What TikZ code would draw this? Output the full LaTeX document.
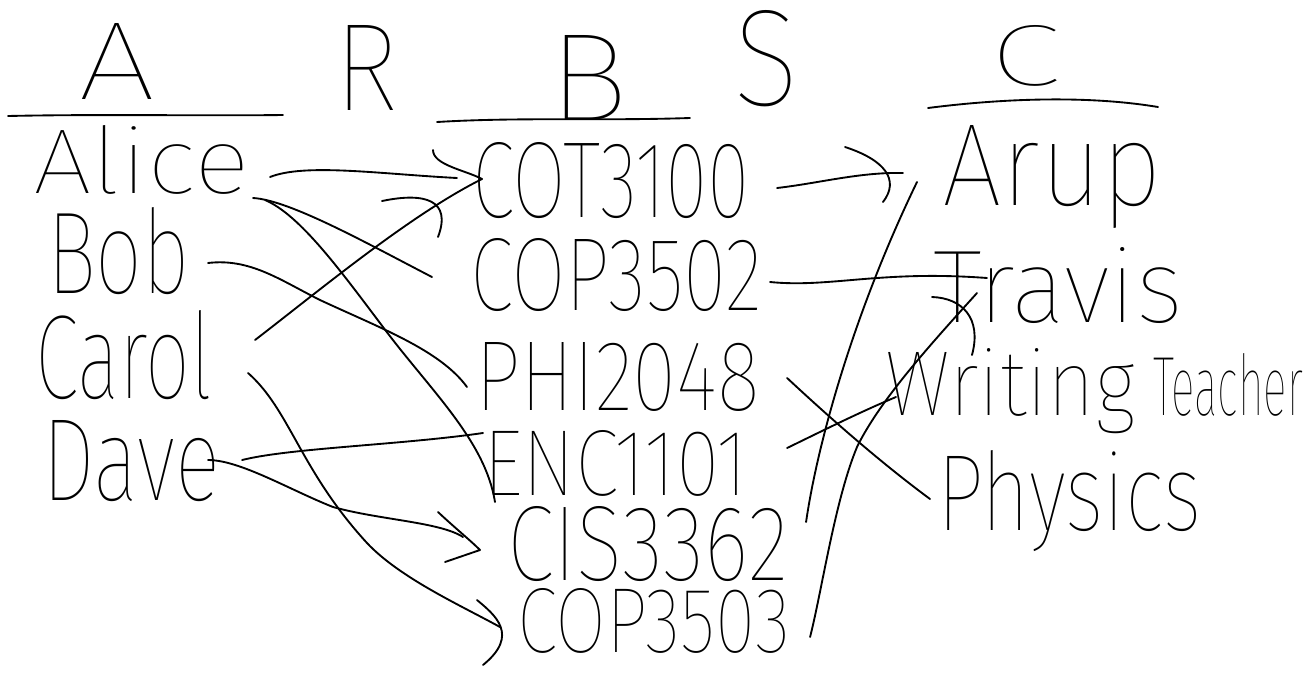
\documentclass[tikz,border=0pt]{standalone}
\usepackage{fontspec}
\usepackage{graphicx}
\newfontfamily\hand{Fira Sans Thin}
\newlength\pxu \setlength\pxu{0.75pt}
\newcommand\hw[3]{\resizebox{#1\pxu}{#2\pxu}{\hand #3}}
\tikzset{
  lbl/.style={inner sep=0pt, outer sep=0pt, anchor=base west},
  ink/.style={line width=1.4pt, line cap=round, line join=round, black}
}
\begin{document}
\begin{tikzpicture}[x=0.75pt,y=-0.75pt]
\fill[white] (0,0) rectangle (1313,672);
\useasboundingbox (0,0) rectangle (1313,672);

% headers
\node[lbl] (hA) at (78,99)   {\hw{77}{76}{A}};
\node[lbl] (hR) at (334,110) {\hw{64}{85}{R}};
\node[lbl] (hB) at (548,120) {\hw{80}{85}{B}};
\node[lbl] (hS) at (733,105) {\hw{66}{95}{S}};
\node[lbl] (hC) at (990,85)  {\hw{70}{60}{C}};
\draw[ink] (8,116) .. controls (100,114) and (200,116) .. (283,115);
\draw[ink] (437,122) .. controls (520,117) and (600,121) .. (690,118);
\draw[ink] (928,108) .. controls (990,100) and (1080,94) .. (1158,107);

% column A
\node[lbl] (alice) at (33,193)  {\hw{217}{68}{Alice}};
\node[lbl] (bob)   at (47,293)  {\hw{143}{86}{Bob}};
\node[lbl] (carol) at (35,398)  {\hw{177}{88}{Carol}};
\node[lbl] (dave)  at (42,500)  {\hw{178}{80}{Dave}};

% column B
\node[lbl] (cot3100) at (472,217) {\hw{278}{75}{COT3100}};
\node[lbl] (cop3502) at (470,310) {\hw{292}{72}{COP3502}};
\node[lbl] (phi2048) at (475,410) {\hw{285}{68}{PHI2048}};
\node[lbl] (enc1101) at (483,495) {\hw{265}{65}{ENC1101}};
\node[lbl] (cis3362) at (507,580) {\hw{281}{74}{CIS3362}};
\node[lbl] (cop3503) at (517,652) {\hw{273}{64}{COP3503}};

% column C
\node[lbl] (arup)    at (942,205) {\hw{220}{80}{Arup}};
\node[lbl] (travis)  at (933,322) {\hw{250}{75}{Travis}};
\node[lbl] (writing) at (885,415) {\hw{250}{67}{Writing}\hspace{18\pxu}\hw{150}{62}{Teacher}};
\node[lbl] (physics) at (937,530) {\hw{265}{80}{Physics}};

% R : A -> B
\draw[ink] ([shift={(20,-16)}]alice.base east) .. controls (305,163) and (380,174) .. ([shift={(-15,-39)}]cot3100.base west);
\draw[ink] ([shift={(-39,-67)}]cot3100.base west) .. controls (433,165) and (465,170) .. ([shift={(10,-38)}]cot3100.base west);
\draw[ink] ([shift={(43,-58)}]carol.base east) .. controls (320,290) and (410,215) .. ([shift={(10,-38)}]cot3100.base west);
\draw[ink] ([shift={(-90,-16)}]cot3100.base west) .. controls (425,192) and (452,200) .. ([shift={(-34,20)}]cot3100.base west);
\draw[ink] ([shift={(3,5)}]alice.base east) .. controls (290,200) and (370,245) .. ([shift={(-38,-33)}]cop3502.base west);
\draw[ink] ([shift={(15,7)}]alice.base east) .. controls (300,215) and (340,270) .. (383,327) .. controls (430,390) and (485,440) .. ([shift={(12,7)}]enc1101.base west);
\draw[ink] ([shift={(18,-30)}]bob.base east) .. controls (250,258) and (280,280) .. (320,300) .. controls (380,328) and (440,350) .. ([shift={(-8,-23)}]phi2048.base west);
\draw[ink] ([shift={(36,-25)}]carol.base east) .. controls (290,410) and (300,470) .. (367,543) .. controls (400,578) and (460,605) .. ([shift={(-17,-25)}]cop3503.base west);
\draw[ink] ([shift={(-40,-52)}]cop3503.base west) .. controls (495,615) and (520,635) .. ([shift={(-34,13)}]cop3503.base west);
\draw[ink] ([shift={(22,-40)}]dave.base east) .. controls (290,448) and (400,445) .. ([shift={(0,-62)}]enc1101.base west);
\draw[ink] ([shift={(-12,-40)}]dave.base east) .. controls (240,460) and (290,490) .. (333,507) .. controls (380,520) and (440,522) .. ([shift={(-44,-43)}]cis3362.base west);
\draw[ink] ([shift={(-69,-68)}]cis3362.base west) .. controls (455,528) and (470,540) .. ([shift={(-27,-30)}]cis3362.base west) -- ([shift={(-62,-18)}]cis3362.base west);

% S : B -> C
\draw[ink] ([shift={(27,-29)}]cot3100.base east) .. controls (820,183) and (860,172) .. ([shift={(-39,-32)}]arup.base west);
\draw[ink] ([shift={(-97,-58)}]arup.base west) .. controls (885,160) and (900,180) .. ([shift={(-59,-3)}]arup.base west);
\draw[ink] ([shift={(8,-28)}]cop3502.base east) .. controls (830,288) and (880,270) .. ([shift={(54,-44)}]travis.base west);
\draw[ink] ([shift={(27,-32)}]phi2048.base east) .. controls (830,418) and (880,462) .. ([shift={(-7,-31)}]physics.base west);
\draw[ink] ([shift={(39,-47)}]enc1101.base east) .. controls (820,432) and (860,412) .. ([shift={(11,-18)}]writing.base west);
\draw[ink] ([shift={(18,-58)}]cis3362.base east) .. controls (818,440) and (855,310) .. ([shift={(-25,-23)}]arup.base west);
\draw[ink] ([shift={(20,-15)}]cop3503.base east) .. controls (822,590) and (835,500) .. (857,447) .. controls (880,400) and (930,345) .. ([shift={(44,-29)}]travis.base west);
\draw[ink] ([shift={(-1,-25)}]travis.base west) .. controls (962,298) and (982,318) .. ([shift={(39,33)}]travis.base west);
\end{tikzpicture}
\end{document}
